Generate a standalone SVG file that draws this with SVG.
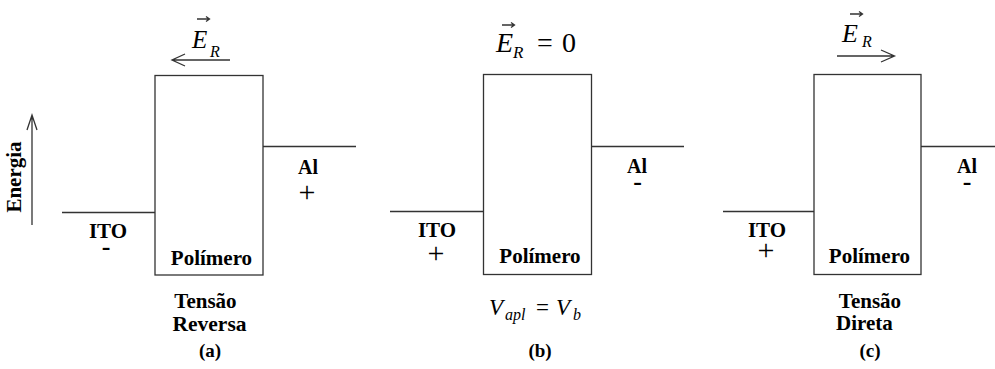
<svg xmlns="http://www.w3.org/2000/svg" width="995" height="369" viewBox="0 0 995 369">
<style>
.ln{stroke:#333;stroke-width:1.3;fill:none}
.box{stroke:#333;stroke-width:1.3;fill:#fff}
</style>
<rect width="995" height="369" fill="#fff"/>

<g id="axis-energia">
<text transform="translate(21,177) rotate(-90)" text-anchor="middle" font-family="Times New Roman" font-weight="bold" font-size="21">Energia</text>
</g>

<g id="panel-a">
<line class="ln" x1="62" y1="212.5" x2="155" y2="212.5"/>
<line class="ln" x1="263" y1="146.5" x2="356" y2="146.5"/>
<rect class="box" x="155" y="75.5" width="108" height="199.5"/>
<text x="211.5" y="265" text-anchor="middle" font-family="Times New Roman" font-weight="bold" font-size="21">Polímero</text>
<text x="108" y="238" text-anchor="middle" font-family="Times New Roman" font-weight="bold" font-size="21">ITO</text>
<text x="106" y="255" text-anchor="middle" font-family="Times New Roman" font-weight="bold" font-size="26">-</text>
<text x="308" y="174" text-anchor="middle" font-family="Times New Roman" font-weight="bold" font-size="20">Al</text>
<text x="307" y="202" text-anchor="middle" font-family="Times New Roman" font-size="30">+</text>
<text x="192" y="48" font-family="Times New Roman" font-style="italic" font-size="25">E<tspan x="210" y="57" font-size="16">R</tspan></text>
<text x="205.5" y="308" text-anchor="middle" font-family="Times New Roman" font-weight="bold" font-size="21">Tensão</text>
<text x="209.5" y="331" text-anchor="middle" font-family="Times New Roman" font-weight="bold" font-size="21.5">Reversa</text>
<text x="210" y="357" text-anchor="middle" font-family="Times New Roman" font-weight="bold" font-size="19">(a)</text>
</g>

<g id="panel-b">
<line class="ln" x1="390" y1="211.5" x2="483.5" y2="211.5"/>
<line class="ln" x1="591.5" y1="146.5" x2="684" y2="146.5"/>
<rect class="box" x="483.5" y="74.5" width="108" height="200"/>
<text x="540" y="263" text-anchor="middle" font-family="Times New Roman" font-weight="bold" font-size="21">Polímero</text>
<text x="437" y="237" text-anchor="middle" font-family="Times New Roman" font-weight="bold" font-size="21">ITO</text>
<text x="436" y="263" text-anchor="middle" font-family="Times New Roman" font-size="30">+</text>
<text x="637" y="173" text-anchor="middle" font-family="Times New Roman" font-weight="bold" font-size="20">Al</text>
<text x="637.5" y="190" text-anchor="middle" font-family="Times New Roman" font-weight="bold" font-size="26">-</text>
<text x="496" y="52" font-family="Times New Roman" font-style="italic" font-size="28">E<tspan x="513" y="58" font-size="17">R</tspan><tspan x="537" y="52" font-style="normal">=</tspan><tspan x="562" y="52" font-style="normal">0</tspan></text>
<text x="489" y="315" font-family="Times New Roman" font-style="italic" font-size="23">V<tspan x="505" y="320" font-size="16">apl</tspan><tspan x="536" y="315" font-style="normal">=</tspan><tspan x="556" y="315">V</tspan><tspan x="573" y="320" font-size="16">b</tspan></text>
<text x="540" y="357" text-anchor="middle" font-family="Times New Roman" font-weight="bold" font-size="19">(b)</text>
</g>

<g id="panel-c">
<line class="ln" x1="723" y1="211.5" x2="814" y2="211.5"/>
<line class="ln" x1="921" y1="146.5" x2="995" y2="146.5"/>
<rect class="box" x="814" y="74.5" width="107" height="200"/>
<text x="869.5" y="263" text-anchor="middle" font-family="Times New Roman" font-weight="bold" font-size="21">Polímero</text>
<text x="767" y="237" text-anchor="middle" font-family="Times New Roman" font-weight="bold" font-size="21">ITO</text>
<text x="766" y="260" text-anchor="middle" font-family="Times New Roman" font-size="30">+</text>
<text x="967" y="173" text-anchor="middle" font-family="Times New Roman" font-weight="bold" font-size="20">Al</text>
<text x="967" y="190" text-anchor="middle" font-family="Times New Roman" font-weight="bold" font-size="26">-</text>
<text x="842" y="42" font-family="Times New Roman" font-style="italic" font-size="26">E<tspan x="862" y="47" font-size="16">R</tspan></text>
<text x="870" y="308" text-anchor="middle" font-family="Times New Roman" font-weight="bold" font-size="21">Tensão</text>
<text x="864.5" y="330" text-anchor="middle" font-family="Times New Roman" font-weight="bold" font-size="21">Direta</text>
<text x="870" y="357" text-anchor="middle" font-family="Times New Roman" font-weight="bold" font-size="19">(c)</text>
</g>

<g id="connectors">
<path class="ln" d="M32 225V115M27 130L32 115L37 130"/>
<path class="ln" d="M173 60H230M185 54L172 60L185 66"/>
<path class="ln" d="M197 19H209M206 16.5L209.5 19L206 21.5"/>
<path class="ln" d="M502 25H514M511 22.5L514.5 25L511 27.5"/>
<path class="ln" d="M837 56H894M881 50L894.5 56L881 62"/>
<path class="ln" d="M850 14H862M859 11.5L862.5 14L859 16.5"/>
</g>
</svg>
